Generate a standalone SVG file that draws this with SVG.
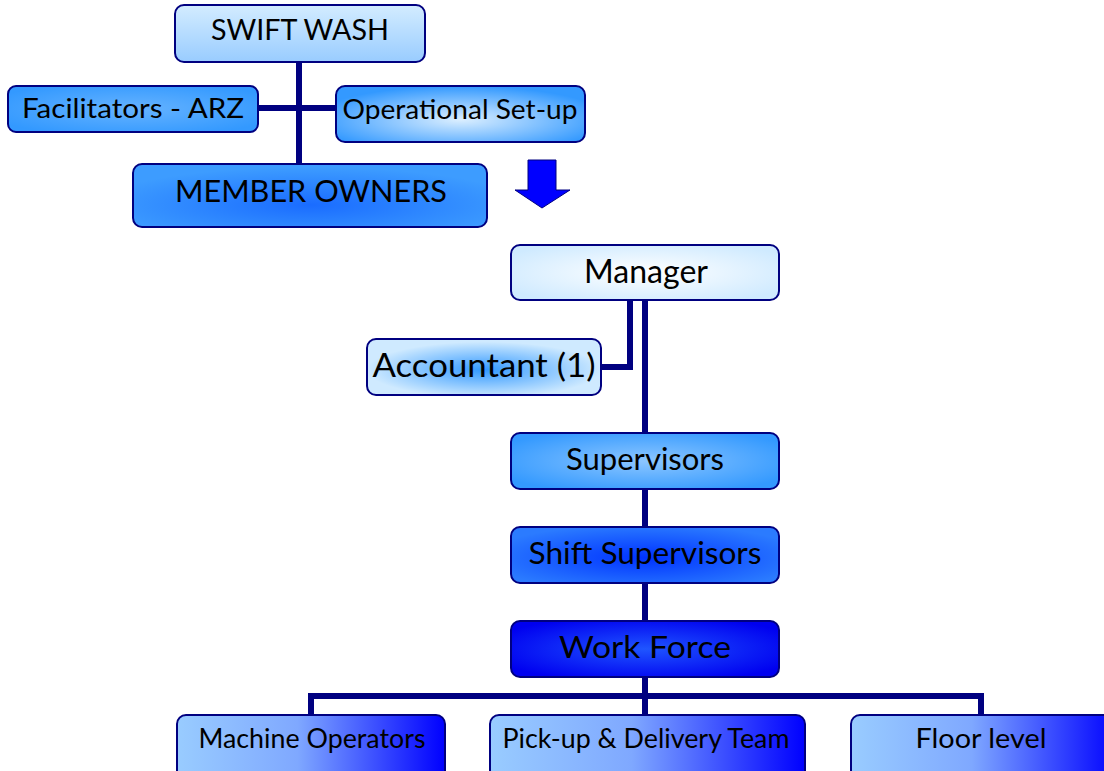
<svg xmlns="http://www.w3.org/2000/svg" width="1104" height="771" viewBox="0 0 1104 771">
<defs>
<linearGradient id="gTop" x1="0" y1="0" x2="0" y2="1"><stop offset="0" stop-color="#d3ecff"/><stop offset="1" stop-color="#99ccff"/></linearGradient>
<radialGradient id="gMid" cx="0.5" cy="0.6" r="0.6"><stop offset="0" stop-color="#dcefff"/><stop offset="1" stop-color="#3399ff"/></radialGradient>
<radialGradient id="gFac" cx="0.5" cy="0.5" r="0.6"><stop offset="0" stop-color="#66b3ff"/><stop offset="1" stop-color="#3399ff"/></radialGradient>
<radialGradient id="gMem" cx="0.5" cy="0.65" r="0.6"><stop offset="0" stop-color="#1a6cff"/><stop offset="1" stop-color="#3d9cff"/></radialGradient>
<radialGradient id="gMgr" cx="0.5" cy="0.5" r="0.6"><stop offset="0" stop-color="#ffffff"/><stop offset="1" stop-color="#cfeaff"/></radialGradient>
<radialGradient id="gAcc" cx="0.5" cy="0.55" r="0.5"><stop offset="0" stop-color="#3399ff"/><stop offset="1" stop-color="#cfeaff"/></radialGradient>
<radialGradient id="gSup" cx="0.5" cy="0.5" r="0.6"><stop offset="0" stop-color="#8cc6ff"/><stop offset="1" stop-color="#3399ff"/></radialGradient>
<radialGradient id="gShift" cx="0.5" cy="0.55" r="0.6"><stop offset="0" stop-color="#0033ff"/><stop offset="1" stop-color="#2b7bff"/></radialGradient>
<radialGradient id="gWork" cx="0.5" cy="0.5" r="0.6"><stop offset="0" stop-color="#1f55ff"/><stop offset="1" stop-color="#0000f0"/></radialGradient>
<linearGradient id="gBot" x1="0" y1="0" x2="1" y2="0"><stop offset="0" stop-color="#99ccff"/><stop offset="0.45" stop-color="#7fa8ff"/><stop offset="1" stop-color="#0000ff"/></linearGradient>
</defs>
<style>
.box{stroke:#000080;stroke-width:2}
.t{font-family:Lato,"Open Sans","Liberation Sans",sans-serif;fill:#000;text-anchor:middle}
.c{stroke:#000080;stroke-width:6;fill:none}
</style>
<rect width="1104" height="771" fill="#ffffff"/>
<g id="connectors">
<path class="c" d="M299 62V164M258 108H336"/>
<path class="c" d="M630 300V367H601"/>
<path class="c" d="M645 300V433M645 489V527M645 583V621M645 677V715"/>
<path class="c" d="M311 715V696H981V715"/>
<path d="M528 160H556V190H570L542 208L515 190H528Z" fill="#0000ff" stroke="#000080" stroke-width="1"/>
</g>
<g id="swift"><rect class="box" x="175" y="5" width="250" height="57" rx="9" fill="url(#gTop)"/><text class="t" x="300" y="40" font-size="29" textLength="178" lengthAdjust="spacingAndGlyphs">SWIFT WASH</text></g>
<g id="facilitators"><rect class="box" x="8" y="86" width="250" height="46" rx="8" fill="url(#gFac)"/><text class="t" x="133" y="118" font-size="27" textLength="222" lengthAdjust="spacingAndGlyphs">Facilitators - ARZ</text></g>
<g id="operational"><rect class="box" x="336" y="86" width="249" height="56" rx="9" fill="url(#gMid)"/><text class="t" x="460" y="119" font-size="27" textLength="235" lengthAdjust="spacingAndGlyphs">Operational Set-up</text></g>
<g id="member"><rect class="box" x="133" y="164" width="354" height="63" rx="9" fill="url(#gMem)"/><text class="t" x="311" y="202" font-size="31" textLength="272" lengthAdjust="spacingAndGlyphs">MEMBER OWNERS</text></g>
<g id="manager"><rect class="box" x="511" y="245" width="268" height="55" rx="9" fill="url(#gMgr)"/><text class="t" x="646" y="283" font-size="32" textLength="124" lengthAdjust="spacingAndGlyphs">Manager</text></g>
<g id="accountant"><rect class="box" x="367" y="339" width="234" height="56" rx="9" fill="url(#gAcc)"/><text class="t" x="484" y="377" font-size="32" textLength="223" lengthAdjust="spacingAndGlyphs">Accountant (1)</text></g>
<g id="supervisors"><rect class="box" x="511" y="433" width="268" height="56" rx="9" fill="url(#gSup)"/><text class="t" x="645" y="470" font-size="31" textLength="158" lengthAdjust="spacingAndGlyphs">Supervisors</text></g>
<g id="shift"><rect class="box" x="511" y="527" width="268" height="56" rx="9" fill="url(#gShift)"/><text class="t" x="645" y="564" font-size="31" textLength="233" lengthAdjust="spacingAndGlyphs">Shift Supervisors</text></g>
<g id="work"><rect class="box" x="511" y="621" width="268" height="56" rx="9" fill="url(#gWork)"/><text class="t" x="645" y="658" font-size="31" textLength="172" lengthAdjust="spacingAndGlyphs">Work Force</text></g>
<g id="machine"><rect class="box" x="177" y="715" width="268" height="66" rx="9" fill="url(#gBot)"/><text class="t" x="312" y="748" font-size="26" textLength="227" lengthAdjust="spacingAndGlyphs">Machine Operators</text></g>
<g id="pickup"><rect class="box" x="490" y="715" width="315" height="66" rx="9" fill="url(#gBot)"/><text class="t" x="646" y="748" font-size="26" textLength="287" lengthAdjust="spacingAndGlyphs">Pick-up &amp; Delivery Team</text></g>
<g id="floor"><rect class="box" x="851" y="715" width="268" height="66" rx="9" fill="url(#gBot)"/><text class="t" x="981" y="748" font-size="26" textLength="131" lengthAdjust="spacingAndGlyphs">Floor level</text></g>
</svg>
